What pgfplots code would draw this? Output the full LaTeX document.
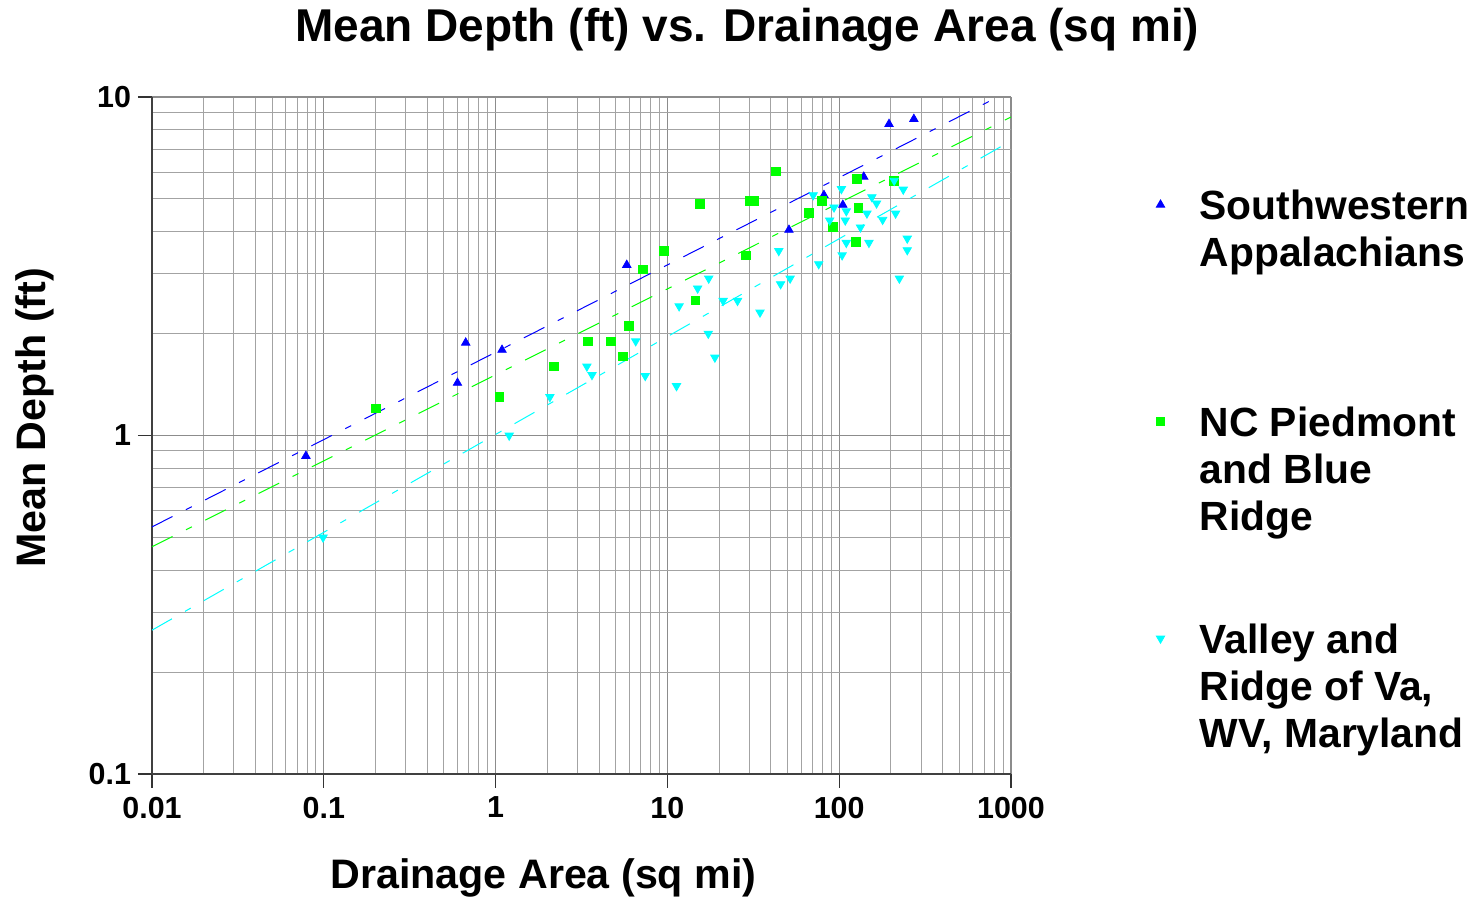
\documentclass[border=0pt]{standalone}
\usepackage{fontspec}
\setmainfont{Liberation Sans}
\usepackage{pgfplots}
\pgfplotsset{compat=1.18}
\definecolor{gridgray}{RGB}{140,140,140}
\definecolor{cgreen}{RGB}{0,255,0}
\definecolor{ccyan}{RGB}{0,255,255}
\definecolor{cblue}{RGB}{0,0,255}
\begin{document}
\begin{tikzpicture}
\path[use as bounding box] (0,0) rectangle (739.5pt,450pt);
\begin{axis}[
  at={(76pt,63pt)}, anchor=south west,
  scale only axis, width=429.5pt, height=338.5pt,
  xmode=log, ymode=log,
  xmin=0.01, xmax=1000, ymin=0.1, ymax=10,
  axis x line*=bottom, axis y line*=left,
  xtick={0.01,0.1,1,10,100,1000},
  xticklabels={0.01,0.1,1,10,100,1000},
  ytick={0.1,1,10},
  yticklabels={0.1,1,10},
  minor xtick={0.02,0.03,0.04,0.05,0.06,0.07,0.08,0.09,0.2,0.3,0.4,0.5,0.6,0.7,0.8,0.9,2,3,4,5,6,7,8,9,20,30,40,50,60,70,80,90,200,300,400,500,600,700,800,900},
  minor ytick={0.2,0.3,0.4,0.5,0.6,0.7,0.8,0.9,2,3,4,5,6,7,8,9},
  grid=both,
  major grid style={gridgray, line width=0.6pt},
  minor grid style={gridgray!80, line width=0.5pt},
  tick align=outside,
  major tick length=7pt, minor tick length=0pt,
  tick style={black!80, line width=0.6pt},
  axis line style={black!75, line width=0.6pt},
  ticklabel style={font=\fontsize{15.2}{18}\selectfont\bfseries},
  xticklabel style={yshift=-1pt},
  /pgf/number format/assume math mode=true,
  xlabel={Drainage Area (sq mi)},
  ylabel={Mean Depth (ft)},
  label style={font=\fontsize{20.6}{24}\selectfont\bfseries},
  xlabel style={at={(axis description cs:0.4558,-0.1537)}, anchor=center},
  ylabel style={at={(axis description cs:-0.136,0.526)}, anchor=center},
  title={Mean Depth (ft) vs. Drainage Area (sq mi)},
  title style={at={(axis description cs:0.693,1.102)}, anchor=center, yshift=-7pt,
    font=\fontsize{23}{27}\selectfont\bfseries},
  legend cell align=left,
  legend style={at={(axis description cs:1.1687,0.8680)}, anchor=north west,
    draw=none, fill=none, inner sep=0pt, row sep=90.5pt, column sep=17.5pt,
    nodes={inner sep=0pt}, font=\fontsize{20.4}{23.5}\selectfont\bfseries},
]
\addplot[cblue, line width=0.5pt, dash pattern=on 11.5pt off 7.5pt on 3.3pt off 7.5pt, forget plot]
  coordinates {(0.01,0.537) (1000,10.47)};
\addplot[cgreen, line width=0.5pt, dash pattern=on 11.5pt off 7.5pt on 3.3pt off 7.5pt, forget plot]
  coordinates {(0.01,0.469) (1000,8.73)};
\addplot[ccyan, line width=0.5pt, dash pattern=on 11.5pt off 7.5pt on 3.3pt off 7.5pt, forget plot]
  coordinates {(0.01,0.266) (1000,7.42)};

\addplot[only marks, mark=triangle*, mark size=2.4pt, mark options={draw=cblue, fill=cblue}]
  coordinates {
  (0.0787,0.87) (0.60,1.43) (0.67,1.88) (1.09,1.79) (5.8,3.19) (51,4.05)
  (81.5,5.13) (105,4.8) (139,5.81) (195,8.32) (272,8.61)
  };
\addlegendentry{\begin{tabular}[t]{@{}l@{}}Southwestern\\Appalachians\end{tabular}}

\addplot[only marks, mark=square*, mark size=2.1pt, mark options={draw=cgreen, fill=cgreen}]
  coordinates {
  (0.201,1.20) (1.05,1.30) (2.19,1.60) (3.45,1.90) (4.70,1.90) (5.52,1.71)
  (5.98,2.11) (7.21,3.10) (9.55,3.51) (14.5,2.51) (15.5,4.83) (28.7,3.41)
  (30.0,4.93) (31.8,4.93) (42.9,6.04) (66.7,4.54) (79.4,4.93) (92,4.13)
  (125,3.73) (127,5.73) (129,4.70) (208,5.65)
  };
\addlegendentry{\begin{tabular}[t]{@{}l@{}}NC Piedmont\\and Blue\\Ridge\end{tabular}}

\addplot[only marks, mark=triangle*, mark size=2.4pt, mark options={draw=ccyan, fill=ccyan, rotate=180}]
  coordinates {
  (0.099,0.50) (1.20,1.00) (2.07,1.30) (3.40,1.60) (3.64,1.51) (6.54,1.90)
  (7.43,1.50) (11.3,1.40) (11.7,2.41) (15.0,2.72) (17.3,2.00) (17.4,2.91)
  (18.9,1.70) (21.1,2.50) (25.6,2.50) (34.6,2.31) (44.5,3.51) (45.6,2.80)
  (51.8,2.91) (70.6,5.13) (76,3.21) (88,4.32) (93.3,4.72) (103,5.35)
  (104,3.41) (108.5,4.32) (110,3.71) (110,4.60) (133,4.12) (145,4.53)
  (149,3.71) (155,5.06) (165,4.85) (179,4.34) (209,5.66) (213,4.53)
  (224,2.91) (236,5.33) (249,3.82) (249,3.53)
  };
\addlegendentry{\begin{tabular}[t]{@{}l@{}}Valley and\\Ridge of Va,\\WV, Maryland\end{tabular}}
\end{axis}
\end{tikzpicture}
\end{document}
